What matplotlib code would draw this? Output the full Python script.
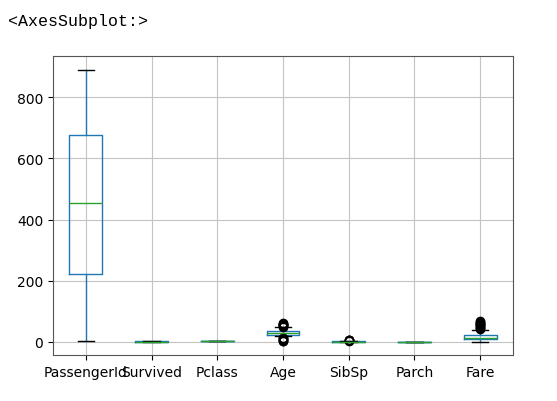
import matplotlib.pyplot as plt

# box statistics
columns = ['PassengerId', 'Survived', 'Pclass', 'Age', 'SibSp', 'Parch', 'Fare']
q1 = [222, 0, 2, 23, 0, 0, 8]
med = [454, 0, 3, 28, 0, 0, 12]
q3 = [676, 1, 3, 36, 1, 0, 21]
whislo = [1, 0, 1, 17, 0, 0, 0]
whishi = [891, 1, 3, 47, 2, 0, 38]
fliers = [
    [],
    [],
    [],
    [1, 3, 5, 8, 11, 13, 49, 51, 53, 55, 57, 59, 61],
    [3, 4, 5, 6],
    [],
    [41, 44, 47, 50, 53, 56, 59, 62, 65, 68],
]

stats = []
for i, name in enumerate(columns):
    stats.append({'label': name, 'q1': q1[i], 'med': med[i], 'q3': q3[i],
                  'whislo': whislo[i], 'whishi': whishi[i], 'fliers': fliers[i]})

fig = plt.figure(figsize=(5.57, 4.02), dpi=100)
ax = fig.add_axes([0.095, 0.114, 0.826, 0.744])

ax.bxp(stats, widths=0.5,
       boxprops={'color': '#1f77b4'},
       whiskerprops={'color': '#1f77b4'},
       medianprops={'color': '#2ca02c'},
       capprops={'color': 'k'},
       flierprops={'marker': 'o', 'markeredgecolor': 'k', 'markerfacecolor': 'none',
                   'markersize': 6})

ax.grid(True, color='#c4c4c4', linewidth=0.8)
ax.set_axisbelow(True)
ax.set_yticks([0, 200, 400, 600, 800])
ax.tick_params(labelsize=10)
for s in ax.spines.values():
    s.set_color('#555555')

fig.text(8 / 557, 1 - 26 / 402, '<AxesSubplot:>', family='Liberation Mono',
         fontsize=12, va='baseline', ha='left')

fig.savefig('out.png', dpi=100)
